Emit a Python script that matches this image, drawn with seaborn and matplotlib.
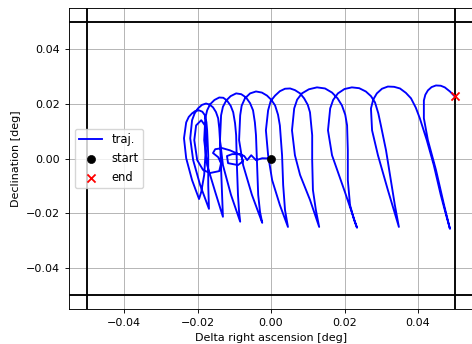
import numpy as np
import pandas as pd
import matplotlib
matplotlib.use("Agg")
import matplotlib.pyplot as plt
import seaborn as sns

# trajectory, in milli-degrees (one line per loop)
ra_mdeg = [
    0.0, -2.4, -4.1, -5.4, -6.5, -7.3, -8.4, -10.6, -12.0, -11.7, -9.0, -7.6, -8.2, -11.2, -13.3,
    -15.2, -15.8, -14.4, -13.6, -14.1, -16.6, -18.5, -20.1, -20.9, -20.4, -19.0, -18.0, -17.7, -18.2, -19.0,
    -19.6, -21.5, -23.1, -23.7, -23.1, -22.4, -21.5, -20.6, -19.6, -18.7, -18.0, -17.6, -17.4, -17.1, -17.1,
    -16.9, -19.3, -21.2, -22.0, -21.5, -20.8, -19.9, -18.8, -17.7, -16.7, -15.8, -15.0, -14.4, -14.1, -13.9, -13.6, -13.3,
    -13.1, -15.2, -17.4, -18.2, -17.9, -17.4, -16.6, -15.4, -14.1, -13.0, -12.0, -11.0, -10.3, -9.8, -9.5, -9.3, -9.0, -8.7,
    -8.4, -10.9, -13.1, -13.9, -13.6, -13.1, -12.2, -11.0, -9.5, -8.1, -6.8, -5.7, -4.9, -4.4, -4.1, -3.8, -3.5, -3.0,
    -2.4, -5.2, -7.6, -8.7, -8.4, -8.0, -7.1, -5.7, -4.1, -2.5, -1.1, 0.1, 1.1, 1.9, 2.4, 3.0, 3.3, 3.8,
    4.6, 2.4, 0.3, -0.8, -1.4, -0.8, -0.1, 1.1, 2.4, 3.8, 5.2, 6.5, 7.9, 9.0, 10.0, 10.6, 11.2, 11.2, 11.4, 12.2,
    13.1, 10.6, 7.9, 6.5, 5.7, 6.3, 7.1, 8.4, 10.3, 12.5, 14.7, 16.6, 18.1, 19.3, 20.2, 20.7, 20.9, 20.9, 21.5, 22.6,
    23.4, 20.1, 16.6, 15.5, 16.1, 16.9, 18.2, 20.0, 22.0, 24.0, 25.8, 27.2, 28.3, 29.2, 29.9, 31.3, 32.6, 33.7,
    34.8, 31.8, 29.1, 27.5, 27.2, 27.8, 28.8, 30.2, 31.8, 33.5, 35.1, 36.7, 38.1, 39.4, 40.5, 42.4, 44.3, 46.2, 47.6,
    48.7, 47.1, 44.9, 42.7, 41.6, 41.6, 42.0, 42.7, 43.7, 44.9, 46.2, 47.3, 48.7, 50.0,
]
dec_mdeg = [
    0.0, 0.1, -0.6, 1.2, -0.6, 0.9, 1.6, 1.6, 0.9, -1.7, -2.4, -1.0, 1.2, 3.0, 3.8,
    3.4, 2.0, 0.5, -1.7, -4.6, -5.3, -4.2, -0.6, 6.7, 12.1, 14.0, 12.1, 4.9, -6.0, -12.2,
    -14.8, -7.9, 0.1, 7.4, 13.2, 15.2, 16.5, 17.4, 17.6, 17.1, 15.8, 13.3, 10.3, 1.2, -9.7,
    -18.4, -9.7, -0.6, 7.4, 14.0, 16.5, 18.3, 19.6, 20.1, 19.7, 18.7, 17.0, 14.7, 11.0, 6.7, -4.2, -15.1,
    -21.3, -12.2, -2.4, 6.7, 14.7, 17.6, 19.8, 21.4, 22.3, 22.2, 21.2, 19.3, 16.9, 12.9, 8.5, -2.4, -13.3, -19.5,
    -23.1, -13.3, -2.4, 6.7, 15.8, 18.9, 21.2, 22.8, 23.8, 23.5, 22.3, 20.2, 17.6, 13.2, 8.5, -2.4, -13.3, -19.5,
    -23.5, -13.3, -2.4, 6.7, 15.8, 19.3, 22.0, 23.8, 24.5, 24.1, 23.0, 21.4, 19.4, 16.0, 12.1, 1.2, -9.7, -18.8,
    -25.0, -17.0, -7.9, 1.2, 10.3, 17.6, 21.0, 23.0, 24.6, 25.5, 25.6, 25.0, 23.8, 22.0, 19.6, 16.9, 8.5, -0.6, -11.5, -18.8,
    -25.0, -15.1, -6.0, 1.2, 10.3, 18.3, 21.5, 23.8, 25.3, 26.0, 25.6, 24.1, 22.0, 19.4, 16.0, 12.1, 3.0, -7.9, -17.0, -22.4,
    -25.3, -12.2, 1.2, 10.3, 18.3, 21.4, 23.8, 25.4, 26.0, 25.7, 24.5, 22.8, 20.5, 16.5, 12.1, 3.0, -7.9, -17.0,
    -25.0, -11.5, 1.2, 10.3, 18.3, 21.5, 23.8, 25.5, 26.3, 26.2, 25.6, 24.0, 22.0, 18.6, 14.7, 6.7, -2.4, -13.3, -20.4,
    -25.7, -17.0, -4.2, 6.7, 14.7, 21.2, 23.3, 24.9, 26.1, 26.7, 26.6, 26.0, 24.5, 22.7,
]
start_ra, start_dec = [0.0], [0.0]
end_ra, end_dec = [0.0500], [0.0227]
box_limit = 0.05
tick_values = [-0.04, -0.02, 0.0, 0.02, 0.04]

df = pd.DataFrame({"ra": np.array(ra_mdeg) / 1000.0, "dec": np.array(dec_mdeg) / 1000.0})

FS = 8.0
plt.rcParams.update({
    "font.size": FS, "axes.labelsize": FS, "xtick.labelsize": FS, "ytick.labelsize": FS,
    "legend.fontsize": FS + 0.3, "xtick.major.size": 2.8, "ytick.major.size": 2.8,
    "xtick.major.width": 0.65, "ytick.major.width": 0.65, "axes.linewidth": 0.65,
})

fig = plt.figure(figsize=(4.72, 3.44), dpi=100)
ax = fig.add_axes([0.1462, 0.1017, 0.8561, 0.875])

sns.lineplot(data=df, x="ra", y="dec", sort=False, estimator=None, color="blue",
             linewidth=1.35, label="traj.", ax=ax)
sns.scatterplot(x=start_ra, y=start_dec, color="black", edgecolor="black", s=34,
                label="start", ax=ax, zorder=4)
sns.scatterplot(x=end_ra, y=end_dec, color="red", marker="x", s=34, linewidth=1.3,
                label="end", ax=ax, zorder=4)

for v in (-box_limit, box_limit):
    ax.axvline(v, color="black", linewidth=1.35)
    ax.axhline(v, color="black", linewidth=1.35)

ax.set_xlim(-0.055, 0.055)
ax.set_ylim(-0.055, 0.055)
ax.set_xticks(tick_values)
ax.set_yticks(tick_values)
ax.grid(True, color="#b0b0b0", linewidth=0.65)
ax.set_xlabel("Delta right ascension [deg]")
ax.set_ylabel("Declination [deg]")
ax.legend(loc="center left")

fig.savefig("out.png", dpi=100)
